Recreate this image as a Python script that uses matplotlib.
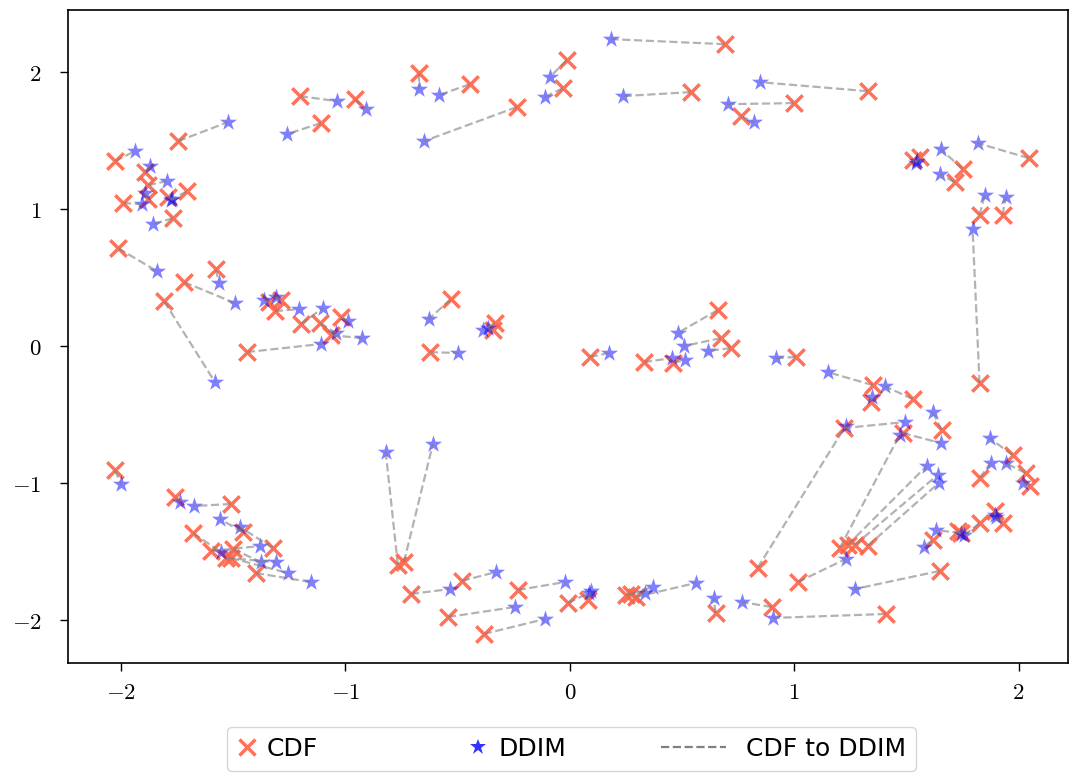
import matplotlib
matplotlib.use("Agg")
import matplotlib.pyplot as plt
from matplotlib.lines import Line2D
from matplotlib.legend_handler import HandlerLine2D

plt.rcParams["mathtext.fontset"] = "cm"

# paired samples: CDF point -> DDIM point
cdf_x = [-2.027, -1.746, -1.203, -1.109, -0.958, -0.673, -0.445, -0.236, -0.013, -0.031,
         0.690, 0.539, 1.327, 0.998, 0.762, 1.528, 1.559, 1.751, 1.715, 2.045,
         1.826, 1.929, 1.826,
         -1.893, -1.880, -1.706, -1.991, -1.880, -1.791, -1.768,
         -2.013, -1.577, -1.719, -1.808, -1.439,
         -1.341, -1.287, -1.314, -1.198, -1.114, -1.020, -1.065,
         -0.530, -0.624, -0.334, -0.343, 0.089, 0.330, 0.459, 0.659, 0.673, 0.717, 1.007,
         1.350, 1.528, 1.341, 1.657, 1.220, 1.483, 0.837,
         1.203, 1.238, 1.269, 1.327, 1.016, 1.408, 1.648,
         1.973, 1.826, 2.031, 2.053, 1.742, 1.826, 1.893, 1.929, 1.617, 1.728,
         -0.766, -0.739, -0.708, -0.481, -0.543, -0.383, -0.232, -0.009, 0.080,
         0.249, 0.294, 0.272, 0.650, 0.900,
         -2.027, -1.759, -1.510, -1.457, -1.323, -1.679, -1.599, -1.501, -1.532, -1.510, -1.399]
cdf_y = [1.350, 1.496, 1.825, 1.628, 1.803, 1.993, 1.912, 1.745, 2.088, 1.883,
         2.204, 1.854, 1.861, 1.774, 1.679, 1.358, 1.380, 1.292, 1.197, 1.372,
         0.956, 0.956, -0.270,
         1.270, 1.175, 1.131, 1.044, 1.073, 1.088, 0.934,
         0.715, 0.562, 0.467, 0.328, -0.044,
         0.321, 0.336, 0.255, 0.161, 0.168, 0.212, 0.080,
         0.343, -0.044, 0.168, 0.117, -0.080, -0.117, -0.124, 0.263, 0.058, -0.015, -0.080,
         -0.285, -0.387, -0.409, -0.613, -0.599, -0.635, -1.620,
         -1.474, -1.453, -1.453, -1.460, -1.723, -1.956, -1.642,
         -0.796, -0.964, -0.927, -1.022, -1.365, -1.292, -1.204, -1.292, -1.416, -1.350,
         -1.599, -1.577, -1.810, -1.715, -1.978, -2.102, -1.781, -1.876, -1.854,
         -1.818, -1.832, -1.810, -1.949, -1.905,
         -0.905, -1.102, -1.153, -1.358, -1.474, -1.365, -1.496, -1.482, -1.547, -1.547, -1.657]
ddim_x = [-1.938, -1.523, -1.038, -1.261, -0.909, -0.673, -0.584, -0.650, -0.089, -0.111,
          0.183, 0.236, 0.846, 0.704, 0.820, 1.546, 1.541, 1.653, 1.648, 1.817,
          1.849, 1.942, 1.795,
          -1.871, -1.795, -1.777, -1.906, -1.893, -1.773, -1.857,
          -1.840, -1.563, -1.492, -1.581, -1.109,
          -1.363, -1.310, -1.207, -1.100, -1.042, -0.989, -0.927,
          -0.628, -0.499, -0.388, -0.365, 0.174, 0.454, 0.512, 0.481, 0.508, 0.615, 0.918,
          1.149, 1.403, 1.345, 1.617, 1.492, 1.653, 1.229,
          1.470, 1.590, 1.639, 1.644, 1.229, 0.904, 1.269,
          1.871, 1.875, 1.942, 2.018, 1.630, 1.759, 1.893, 1.898, 1.577, 1.742,
          -0.820, -0.610, -0.535, -0.330, -0.245, -0.111, -0.022, 0.085, 0.094,
          0.334, 0.561, 0.370, 0.641, 0.766,
          -2.000, -1.737, -1.675, -1.559, -1.470, -1.555, -1.381, -1.376, -1.310, -1.256, -1.154]
ddim_y = [1.423, 1.635, 1.788, 1.547, 1.730, 1.876, 1.832, 1.496, 1.964, 1.818,
          2.241, 1.825, 1.927, 1.766, 1.635, 1.350, 1.336, 1.438, 1.255, 1.482,
          1.102, 1.088, 0.854,
          1.314, 1.204, 1.066, 1.036, 1.117, 1.073, 0.891,
          0.547, 0.460, 0.314, -0.263, 0.015,
          0.336, 0.358, 0.270, 0.277, 0.095, 0.182, 0.058,
          0.197, -0.051, 0.117, 0.131, -0.051, -0.088, -0.102, 0.095, 0.000, -0.036, -0.088,
          -0.190, -0.292, -0.372, -0.482, -0.555, -0.708, -0.584,
          -0.650, -0.876, -0.942, -1.000, -1.555, -1.985, -1.774,
          -0.672, -0.854, -0.854, -1.000, -1.343, -1.380, -1.234, -1.248, -1.467, -1.372,
          -0.774, -0.715, -1.774, -1.650, -1.905, -1.993, -1.723, -1.803, -1.788,
          -1.803, -1.730, -1.759, -1.839, -1.869,
          -1.007, -1.139, -1.168, -1.263, -1.321, -1.504, -1.460, -1.577, -1.577, -1.657, -1.723]

ticks = [-2, -1, 0, 1, 2]
tick_labels = [r"$-2$", r"$-1$", r"$0$", r"$1$", r"$2$"]


class LeftLine(HandlerLine2D):
    # dashed sample drawn mostly to the left of the (short) handle box
    def create_artists(self, legend, orig_handle, xdescent, ydescent,
                       width, height, fontsize, trans):
        y = (height - ydescent) / 2
        line = Line2D([-xdescent - 2.2 * fontsize, -xdescent + 0.4 * fontsize], [y, y])
        self.update_prop(line, orig_handle, legend)
        line.set_transform(trans)
        return [line]


fig = plt.figure(figsize=(10.69, 7.76), dpi=100)
ax = fig.add_axes([0.0636, 0.1456, 0.935, 0.8414])

ax.scatter(cdf_x, cdf_y, marker="x", color="tomato", alpha=0.9, s=140, linewidths=2.5, zorder=2)
ax.scatter(ddim_x, ddim_y, marker="*", color="blue", alpha=0.5, s=170, linewidths=0, zorder=3)
for cx, cy, dx, dy in zip(cdf_x, cdf_y, ddim_x, ddim_y):
    ax.plot([cx, dx], [cy, dy], "--", color="gray", alpha=0.6, lw=1.6, zorder=4)

ax.set_xlim(-2.236, 2.218)
ax.set_ylim(-2.314, 2.453)
ax.set_xticks(ticks)
ax.set_xticklabels(tick_labels)
ax.set_yticks(ticks)
ax.set_yticklabels(tick_labels)
ax.tick_params(labelsize=16.5, length=6, width=1)
ax.tick_params(axis="x", pad=7)
ax.tick_params(axis="y", pad=13)
for sp in ax.spines.values():
    sp.set_linewidth(1.2)

h_cdf = Line2D([], [], linestyle="none", marker="x", color="tomato", alpha=0.9,
               markersize=11, markeredgewidth=2.5, label="CDF")
h_ddim = Line2D([], [], linestyle="none", marker="*", color="blue", alpha=0.8,
                markersize=12, markeredgewidth=0, label="DDIM")
h_line = Line2D([], [], linestyle="--", color="gray", lw=1.6, label="CDF to DDIM")
ax.legend(handles=[h_cdf, h_ddim, h_line], handler_map={h_line: LeftLine()},
          loc="upper center", bbox_to_anchor=(0.504, -0.079),
          ncol=3, fontsize=18, columnspacing=6.0, handlelength=0.8,
          handletextpad=0.4, frameon=True, fancybox=True)

fig.savefig("out.png", dpi=100)
